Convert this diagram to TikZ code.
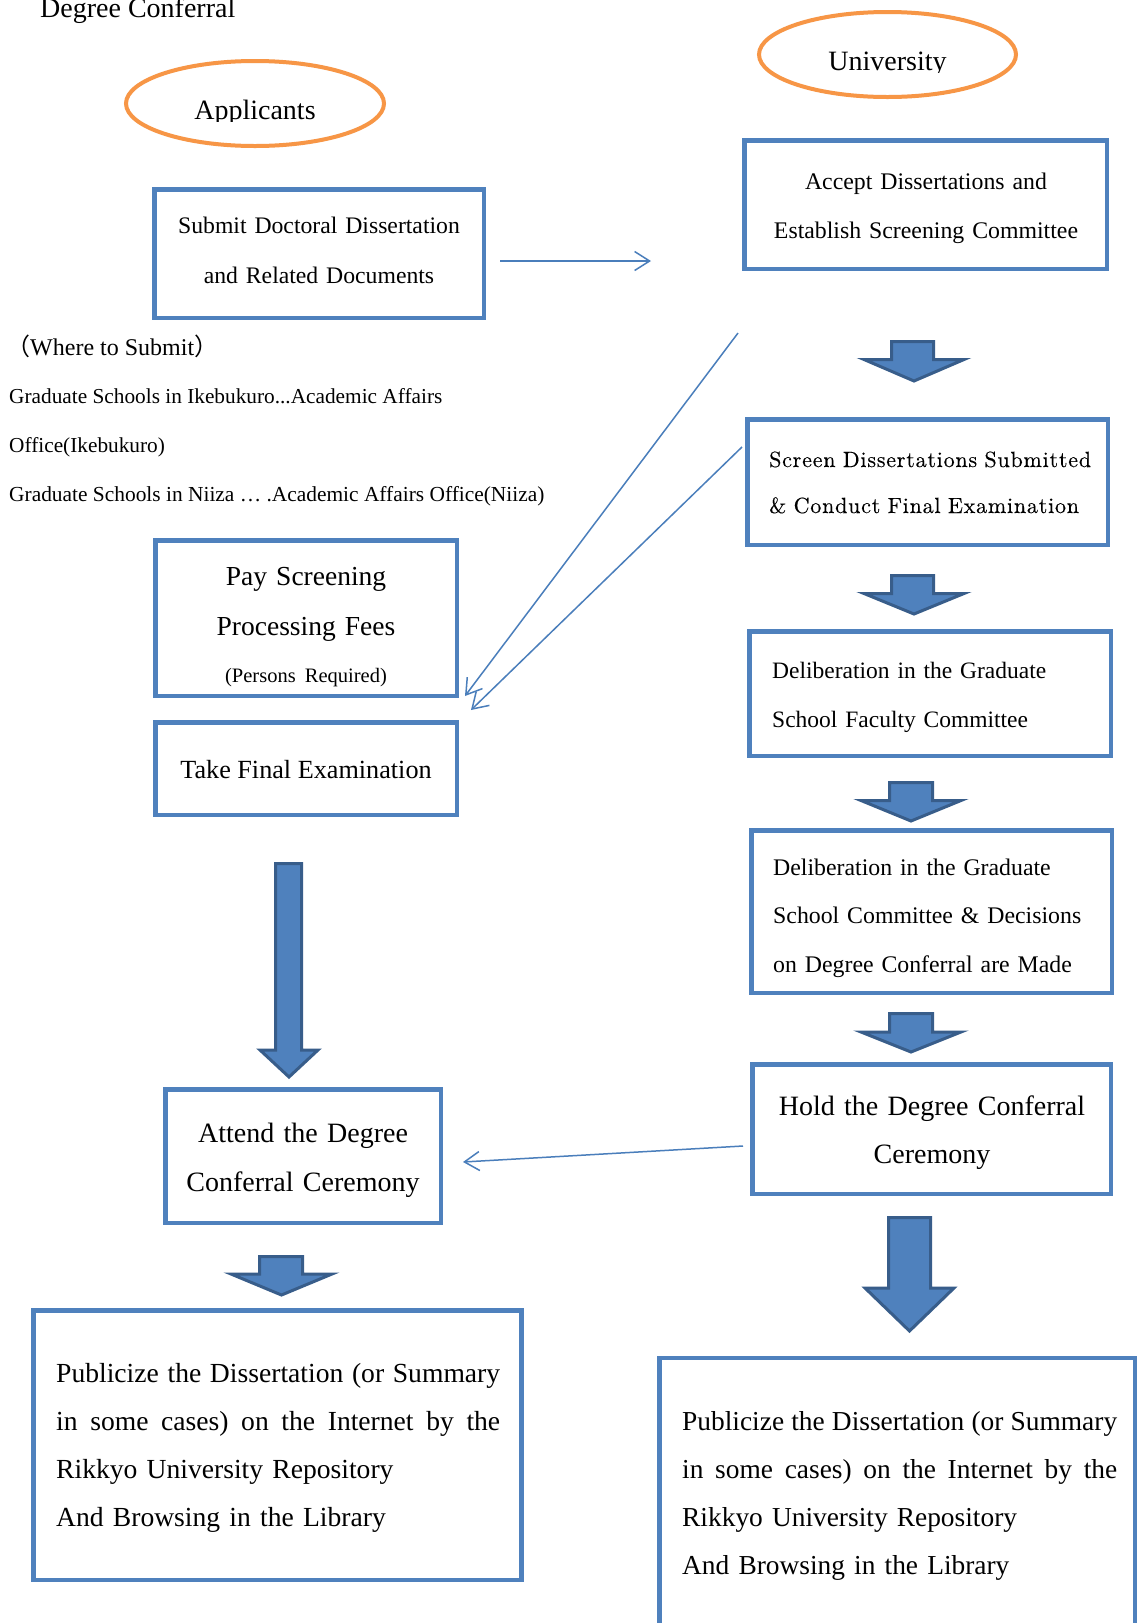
\documentclass[tikz,border=0pt]{standalone}
\usepackage{fontspec}
\newfontfamily\tms{Liberation Serif}
\newfontfamily\cjk{Noto Sans CJK JP}
\newfontfamily\lmrsp{lmroman10-regular.otf}[LetterSpace=3.6,FakeBold=0.25]
\usetikzlibrary{arrows.meta,shapes.geometric}
\definecolor{boxblue}{HTML}{4F81BD}
\definecolor{lineblue}{HTML}{4A7EBB}
\definecolor{darkblue}{HTML}{385D8A}
\definecolor{ellorange}{HTML}{F79646}
\newcommand\blockarr[7]{%
  \draw[blk] (#1,#3) -- (#2,#3) -- (#2,#4) -- (#6,#4) -- ({(#5+#6)/2},#7) -- (#5,#4) -- (#1,#4) -- cycle;}
\newcommand\fs[2]{\tms\fontsize{#1}{#2}\selectfont}
\newcommand\jline[2]{\leavevmode\hbox to #1{\spaceskip=.25em plus 1fil minus .12em\relax #2}}
\begin{document}
\begin{tikzpicture}[x=1pt,y=-1pt,
  box/.style={draw=boxblue, line width=4.5pt, inner sep=0pt, rectangle},
  ell/.style={draw=ellorange, line width=4pt, ellipse, inner sep=0pt},
  txt/.style={inner sep=0pt, font=\tms},
  conn/.style={draw=lineblue, line width=1.5pt, -{Straight Barb[length=15pt,width=19pt]}},
  blk/.style={fill=boxblue, draw=darkblue, line width=3pt, line join=miter}
]
\clip (0,0) rectangle (1137,1623);
\fill[white] (0,0) rectangle (1137,1623);

% title
\node[txt, anchor=base west, font=\fs{28}{30}] (title) at (40,17) {Degree Conferral};

% ellipses
\node[ell, minimum width=258pt, minimum height=85pt] (appl) at (255,103.5) {};
\begin{scope}
\clip (130,70) rectangle (380,121.5);
\node[txt, anchor=base, font=\fs{28}{30}] (applT) at (255,119.3) {Applicants};
\end{scope}
\node[ell, minimum width=257pt, minimum height=85pt] (univ) at (887.5,54.5) {};
\begin{scope}
\clip (760,20) rectangle (1015,72.7);
\node[txt, anchor=base, font=\fs{28}{30}] (univT) at (887.5,70.7) {University};
\end{scope}

% boxes
\node[box, minimum width=329.5pt, minimum height=128.5pt] (sub) at (319,253.5) {};
\node[box, minimum width=362.5pt, minimum height=128.5pt] (acc) at (925.5,204.5) {};
\node[box, minimum width=360.5pt, minimum height=125.5pt] (scr) at (927.5,482) {};
\node[box, minimum width=301.5pt, minimum height=155.5pt] (pay) at (306,618) {};
\node[box, minimum width=301.5pt, minimum height=92.5pt] (take) at (306,768.5) {};
\node[box, minimum width=361.5pt, minimum height=124.5pt] (del1) at (930,693.5) {};
\node[box, minimum width=360.5pt, minimum height=162.5pt] (del2) at (931.5,911.5) {};
\node[box, minimum width=358.5pt, minimum height=129.5pt] (hold) at (931.5,1129) {};
\node[box, minimum width=275.5pt, minimum height=133.5pt] (att) at (303,1156) {};
\node[box, minimum width=488pt, minimum height=269.5pt] (pubL) at (277.7,1445) {};
\node[box, minimum width=475.5pt, minimum height=361.75pt] (pubR) at (897,1539.1) {};

% box texts
\node[txt, anchor=base, text width=340pt, align=center, font=\fs{23.7}{50}] (subT) at (319,233)
  {Submit Doctoral Dissertation\\and Related Documents};
\node[txt, anchor=base, text width=360pt, align=center, font=\fs{23.8}{49}] (accT) at (926,189)
  {Accept Dissertations and\\Establish Screening Committee};
\node[txt, anchor=base west, text width=350pt, align=left,
  font=\lmrsp\fontsize{22}{46}\selectfont] (scrT) at (769,467)
  {Screen Dissertations Submitted\\\& Conduct Final Examination};
\node[txt, anchor=base, text width=300pt, align=center, font=\fs{27.5}{50}] (payT) at (306,585)
  {Pay Screening\\Processing Fees\\[-3pt]{\fontsize{20.5}{24}\selectfont (Persons Required)}};
\node[txt, anchor=base, font=\fs{26.2}{30}] (takeT) at (306,778) {Take Final Examination};
\node[txt, anchor=base west, text width=340pt, align=left, font=\fs{23.5}{49}] (del1T) at (772,678)
  {Deliberation in the Graduate\\School Faculty Committee};
\node[txt, anchor=base west, text width=340pt, align=left, font=\fs{23.8}{48.5}] (del2T) at (773,875)
  {Deliberation in the Graduate\\School Committee \& Decisions\\on Degree Conferral are Made};
\node[txt, anchor=base, text width=340pt, align=center, font=\fs{28}{48}] (holdT) at (932,1115)
  {Hold the Degree Conferral\\Ceremony};
\node[txt, anchor=base, text width=270pt, align=center, font=\fs{28}{49}] (attT) at (303,1142)
  {Attend the Degree\\Conferral Ceremony};
\node[txt, anchor=base west, text width=450pt, align=left, font=\fs{27.6}{48.3}] (pubLT) at (56,1382)
  {\jline{444pt}{Publicize the Dissertation (or Summary}\\
   \jline{444pt}{in some cases) on the Internet by the}\\
   Rikkyo University Repository\\
   And Browsing in the Library};
\node[txt, anchor=base west, text width=440pt, align=left, font=\fs{27.4}{48.3}] (pubRT) at (682,1430)
  {\jline{435pt}{Publicize the Dissertation (or Summary}\\
   \jline{435pt}{in some cases) on the Internet by the}\\
   Rikkyo University Repository\\
   And Browsing in the Library};

% where to submit
\node[txt, anchor=base west, font=\fs{24}{26}] (where) at (6,355) {{\cjk （}Where to Submit{\cjk ）}};
\node[txt, anchor=base west, font=\fs{21.3}{24}] (ike1) at (9,403) {Graduate Schools in Ikebukuro...Academic Affairs};
\node[txt, anchor=base west, font=\fs{21.3}{24}] (ike2) at (9,452) {Office(Ikebukuro)};
\node[txt, anchor=base west, font=\fs{21.4}{24}] (nii) at (9,501) {Graduate Schools in Niiza … .Academic Affairs Office(Niiza)};

% thin connectors
\coordinate (c1s) at (500,261); \coordinate (c1e) at (651,261);
\coordinate (c2s) at (738,333); \coordinate (c2e) at (465,696);
\coordinate (c3s) at (742,447); \coordinate (c3e) at (471,710);
\coordinate (c4s) at (743,1146); \coordinate (c4e) at (463,1162);
\draw[conn] (c1s) -- (c1e);
\draw[conn] (c2s) -- (c2e);
\draw[conn] (c3s) -- (c3e);
\draw[conn] (c4s) -- (c4e);

% block arrows
\blockarr{891.5}{933.5}{341.5}{359.5}{864}{964}{381}
\blockarr{891.5}{933.5}{575.5}{593.5}{864}{964}{614}
\blockarr{889.5}{932.5}{782.5}{800.5}{861}{961}{821}
\blockarr{889.5}{932.5}{1013.5}{1032}{861}{961}{1052}
\blockarr{275.5}{301.5}{863.5}{1050}{260}{318}{1077}
\blockarr{259.5}{302.5}{1256.5}{1274}{231}{332}{1295}
\blockarr{888.5}{930.5}{1217.5}{1288}{865}{954}{1331}
\end{tikzpicture}
\end{document}
